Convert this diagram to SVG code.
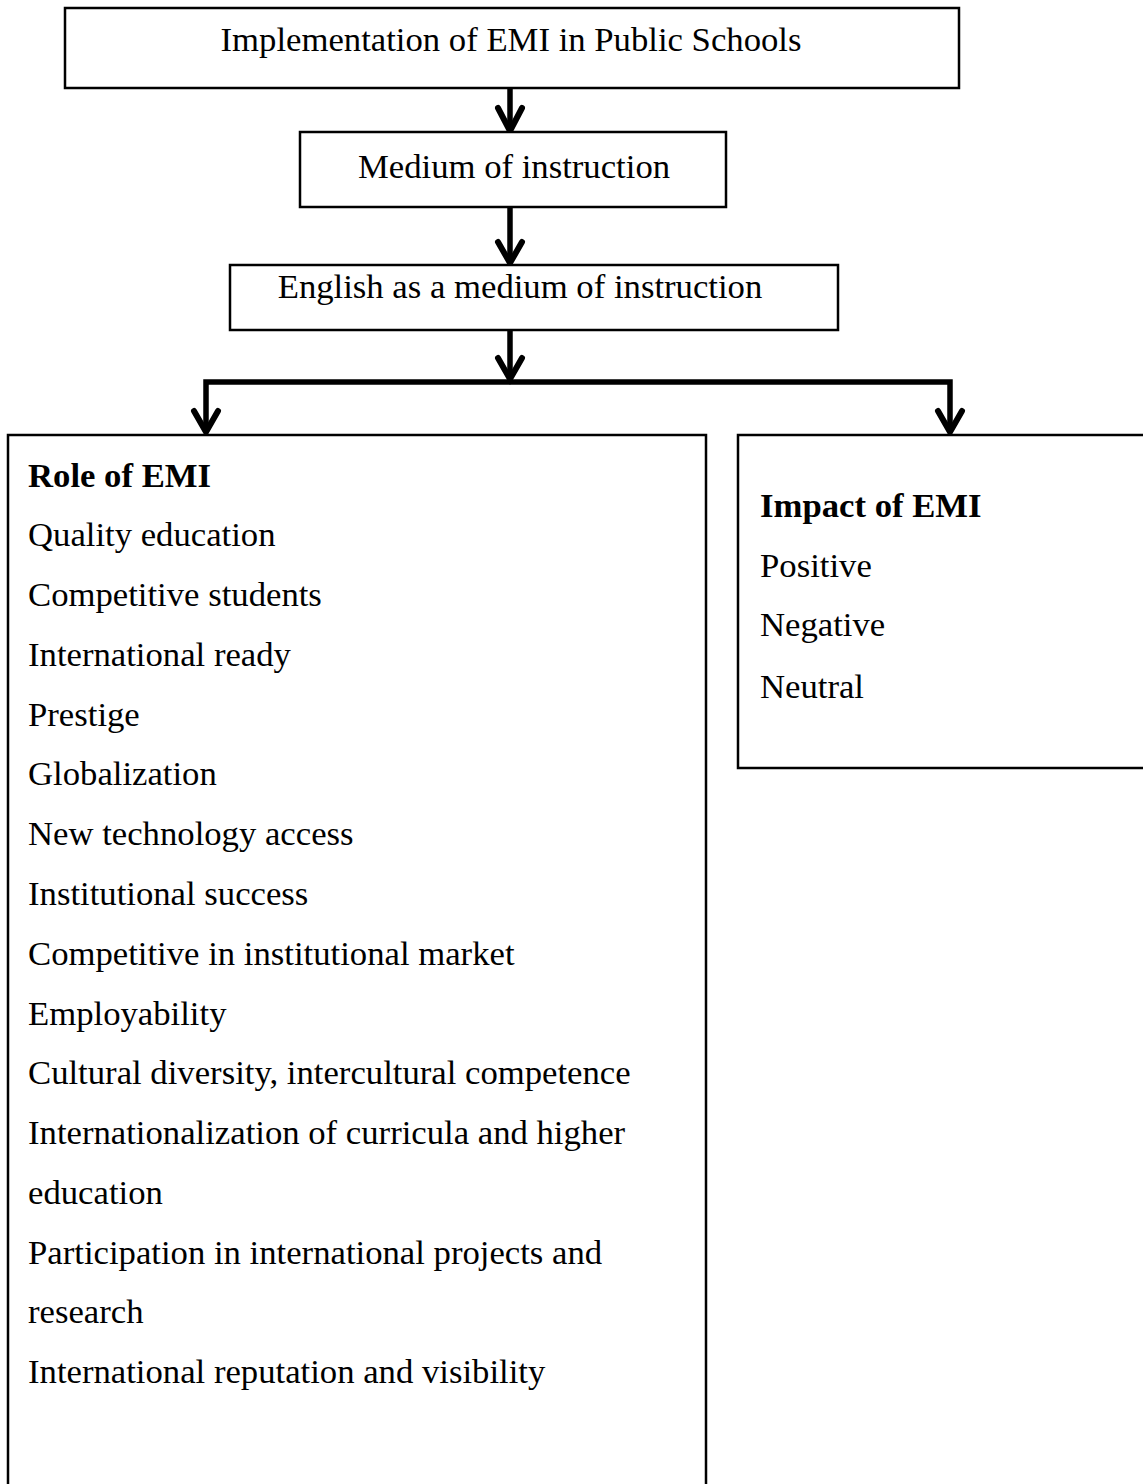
<svg xmlns="http://www.w3.org/2000/svg" width="1143" height="1484" viewBox="0 0 1143 1484">
<style>
.box{fill:#fff;stroke:#000;stroke-width:2.5}
.t{font-family:"Liberation Serif","Times New Roman",serif;font-size:34.7px;fill:#000}
.c{text-anchor:middle}
.b{font-weight:bold}
.ln{stroke:#000;stroke-width:5.5;fill:none}
.hd{stroke:#000;stroke-width:6;fill:none;stroke-linecap:round;stroke-linejoin:miter}
</style>
<rect width="1143" height="1484" fill="#fff"/>
<g id="connectors">
<line class="ln" x1="510" y1="88" x2="510" y2="130"/>
<polyline class="hd" points="498,108 510,131 522,108"/>
<line class="ln" x1="510" y1="207" x2="510" y2="262"/>
<polyline class="hd" points="498,242 510,263 522,242"/>
<line class="ln" x1="510" y1="330" x2="510" y2="379"/>
<polyline class="hd" points="498,358 510,379 522,358"/>
<polyline class="ln" points="206,431 206,382 950,382 950,431"/>
<polyline class="hd" points="194,411 206,432 218,411"/>
<polyline class="hd" points="938,411 950,432 962,411"/>
</g>
<g id="n1">
<rect class="box" x="65" y="8" width="894" height="80"/>
<text class="t c" x="511" y="51">Implementation of EMI in Public Schools</text>
</g>
<g id="n2">
<rect class="box" x="300" y="132" width="426" height="75"/>
<text class="t c" x="514" y="178">Medium of instruction</text>
</g>
<g id="n3">
<rect class="box" x="230" y="265" width="608" height="65"/>
<text class="t c" x="520" y="298">English as a medium of instruction</text>
</g>
<g id="n4">
<rect class="box" x="8" y="435" width="698" height="1060"/>
<text class="t b" x="28" y="487">Role of EMI</text>
<text class="t" x="28" y="546">Quality education</text>
<text class="t" x="28" y="606">Competitive students</text>
<text class="t" x="28" y="666">International ready</text>
<text class="t" x="28" y="726">Prestige</text>
<text class="t" x="28" y="785">Globalization</text>
<text class="t" x="28" y="845">New technology access</text>
<text class="t" x="28" y="905">Institutional success</text>
<text class="t" x="28" y="965">Competitive in institutional market</text>
<text class="t" x="28" y="1025">Employability</text>
<text class="t" x="28" y="1084">Cultural diversity, intercultural competence</text>
<text class="t" x="28" y="1144">Internationalization of curricula and higher</text>
<text class="t" x="28" y="1204">education</text>
<text class="t" x="28" y="1264">Participation in international projects and</text>
<text class="t" x="28" y="1323">research</text>
<text class="t" x="28" y="1383">International reputation and visibility</text>
</g>
<g id="n5">
<rect class="box" x="738" y="435" width="420" height="333"/>
<text class="t b" x="760" y="517">Impact of EMI</text>
<text class="t" x="760" y="577">Positive</text>
<text class="t" x="760" y="636">Negative</text>
<text class="t" x="760" y="698">Neutral</text>
</g>
</svg>
